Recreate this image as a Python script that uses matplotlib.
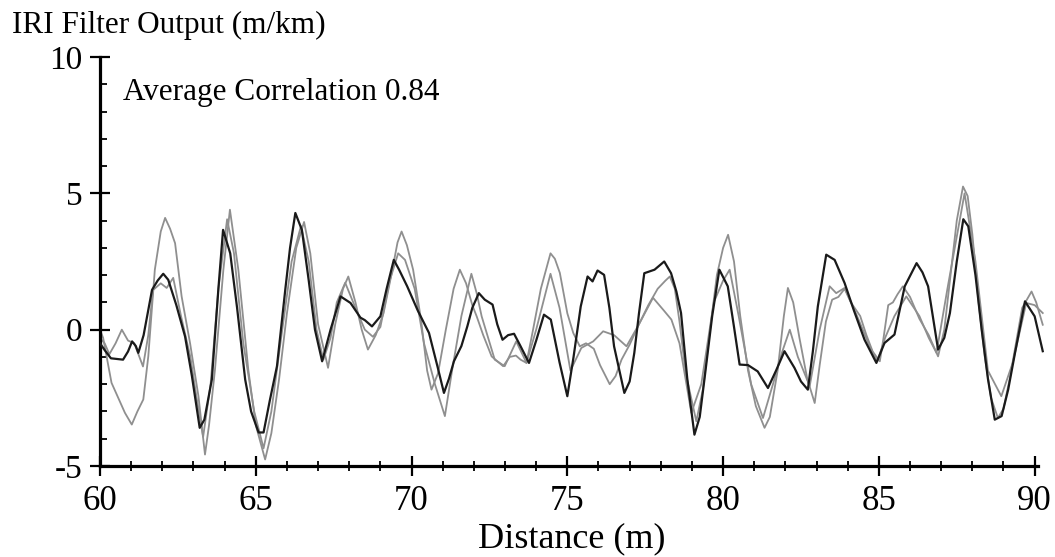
import numpy as np
import matplotlib
matplotlib.use("Agg")
import matplotlib.pyplot as plt
from matplotlib.ticker import FixedLocator, MultipleLocator

# --------------------------
# Data (distance in m, IRI filter output in m/km)
# --------------------------
dist_a = [60.0, 60.15, 60.35, 60.74, 60.9, 61.03, 61.15, 61.23, 61.4, 61.67, 61.85, 62.03, 62.19, 62.45,
          62.73, 62.95, 63.2, 63.35, 63.59, 63.8, 63.95, 64.18, 64.4, 64.66, 64.85, 65.09, 65.25, 65.45,
          65.68, 65.95, 66.1, 66.27, 66.48, 66.7, 66.9, 67.13, 67.4, 67.72, 68.04, 68.36, 68.5, 68.73,
          69.0, 69.2, 69.43, 69.6, 69.86, 70.2, 70.56, 70.83, 71.04, 71.2, 71.36, 71.6, 71.79, 71.95,
          72.16, 72.35, 72.6, 72.75, 72.92, 73.1, 73.29, 73.5, 73.77, 74.0, 74.25, 74.47, 74.75, 75.0,
          75.2, 75.43, 75.65, 75.81, 75.97, 76.18, 76.35, 76.5, 76.83, 77.0, 77.15, 77.3, 77.47, 77.8,
          78.11, 78.33, 78.5, 78.65, 78.85, 79.08, 79.25, 79.4, 79.65, 79.88, 80.15, 80.35, 80.53, 80.8,
          81.11, 81.44, 81.7, 81.97, 82.29, 82.5, 82.72, 82.88, 83.04, 83.31, 83.58, 83.9, 84.2, 84.54,
          84.92, 85.18, 85.5, 85.83, 86.21, 86.4, 86.58, 86.9, 87.1, 87.28, 87.5, 87.71, 87.87, 88.1,
          88.3, 88.5, 88.72, 88.94, 89.15, 89.37, 89.69, 90.0, 90.26]
iri_a = [-0.5, -0.75, -1.05, -1.1, -0.8, -0.43, -0.6, -0.85, -0.2, 1.46, 1.8, 2.05, 1.83, 0.9,
         -0.25, -1.7, -3.6, -3.3, -1.83, 1.5, 3.66, 2.8, 0.8, -1.83, -3.0, -3.77, -3.77, -2.6,
         -1.34, 1.5, 3.0, 4.28, 3.66, 1.8, 0.0, -1.16, 0.0, 1.22, 0.98, 0.44, 0.35, 0.12,
         0.49, 1.5, 2.56, 2.2, 1.59, 0.7, -0.12, -1.34, -2.32, -1.8, -1.16, -0.6, 0.12, 0.8,
         1.34, 1.1, 0.92, 0.2, -0.37, -0.2, -0.15, -0.61, -1.22, -0.4, 0.55, 0.37, -1.2, -2.44,
         -1.0, 0.85, 1.95, 1.77, 2.17, 2.01, 0.8, -0.61, -2.32, -1.9, -0.85, 0.6, 2.07, 2.2,
         2.5, 2.07, 1.4, 0.61, -1.8, -3.85, -3.2, -1.83, 0.5, 2.2, 1.59, 0.1, -1.28, -1.3,
         -1.53, -2.14, -1.5, -0.79, -1.4, -1.9, -2.2, -0.8, 0.85, 2.75, 2.56, 1.71, 0.7, -0.37,
         -1.22, -0.49, -0.18, 1.59, 2.44, 2.1, 1.59, -0.73, -0.3, 0.61, 2.5, 4.05, 3.79, 2.0,
         0.0, -1.8, -3.3, -3.17, -2.2, -0.85, 1.04, 0.49, -0.79]

dist_b = [60.0, 60.1, 60.37, 60.8, 61.02, 61.2, 61.39, 61.55, 61.76, 61.95, 62.09, 62.25, 62.41, 62.62,
          62.89, 63.16, 63.37, 63.5, 63.69, 63.96, 64.17, 64.44, 64.76, 65.0, 65.3, 65.5, 65.75, 66.0,
          66.3, 66.55, 66.75, 67.0, 67.32, 67.55, 67.8, 67.97, 68.2, 68.4, 68.6, 68.85, 69.1, 69.35,
          69.55, 69.68, 69.85, 70.05, 70.3, 70.5, 70.64, 70.85, 71.1, 71.35, 71.55, 71.75, 71.95, 72.09,
          72.3, 72.57, 72.94, 73.15, 73.35, 73.5, 73.69, 73.9, 74.15, 74.46, 74.6, 74.76, 75.0, 75.19,
          75.4, 75.6, 75.85, 76.05, 76.36, 76.55, 76.74, 77.0, 77.3, 77.6, 77.9, 78.15, 78.29, 78.45,
          78.6, 78.8, 79.14, 79.35, 79.55, 79.8, 80.0, 80.16, 80.35, 80.55, 80.8, 81.05, 81.33, 81.5,
          81.75, 81.95, 82.08, 82.25, 82.45, 82.7, 82.94, 83.1, 83.3, 83.5, 83.7, 83.9, 84.1, 84.4,
          84.6, 84.8, 85.03, 85.15, 85.3, 85.45, 85.6, 85.77, 86.0, 86.3, 86.6, 86.9, 87.1, 87.3,
          87.5, 87.7, 87.85, 88.0, 88.2, 88.4, 88.6, 88.82, 89.0, 89.2, 89.4, 89.6, 89.9, 90.05, 90.26]
iri_b = [0.0, -0.3, -1.95, -3.05, -3.48, -3.0, -2.56, -0.98, 2.2, 3.6, 4.1, 3.7, 3.17, 1.22,
         -0.49, -2.44, -4.58, -3.5, -1.47, 2.2, 4.4, 2.2, -1.47, -3.5, -4.76, -3.8, -1.8, 0.6,
         3.0, 3.95, 2.8, 0.2, -1.4, 0.2, 1.5, 1.95, 1.0, 0.0, -0.73, -0.2, 0.6, 2.0,
         3.2, 3.6, 3.1, 2.2, 0.4, -1.5, -2.2, -1.6, 0.0, 1.5, 2.2, 1.7, 0.9, 0.49,
         -0.2, -0.98, -1.34, -1.0, -0.95, -1.1, -1.22, 0.0, 1.5, 2.8, 2.6, 2.08, 0.6, -0.12,
         -0.61, -0.5, -0.7, -1.3, -2.0, -1.7, -1.1, -0.55, 0.2, 0.9, 1.5, 1.8, 1.95, 1.5,
         0.3, -1.6, -3.36, -2.2, -0.3, 2.0, 3.0, 3.48, 2.5, 0.5, -1.5, -2.8, -3.6, -3.2,
         -1.5, 0.5, 1.53, 1.0, -0.3, -1.8, -2.69, -1.3, 0.3, 1.1, 1.2, 1.5, 1.0, 0.5,
         -0.2, -0.8, -1.16, -0.3, 0.9, 1.0, 1.3, 1.59, 1.2, 0.4, -0.2, -0.98, 0.0, 2.0,
         4.0, 5.25, 4.9, 3.5, 1.0, -1.0, -2.5, -3.24, -2.9, -1.8, -0.5, 0.8, 1.4, 1.0, 0.18]

dist_c = [60.0, 60.15, 60.3, 60.5, 60.7, 60.9, 61.1, 61.38, 61.55, 61.7, 61.95, 62.14, 62.35, 62.6,
          62.9, 63.1, 63.31, 63.55, 63.8, 64.08, 64.3, 64.6, 64.95, 65.25, 65.5, 65.85, 66.15, 66.45,
          66.7, 66.95, 67.17, 67.4, 67.6, 67.87, 68.2, 68.5, 68.76, 69.0, 69.3, 69.57, 69.79, 70.1,
          70.4, 70.75, 71.07, 71.3, 71.6, 71.92, 72.09, 72.25, 72.67, 72.99, 73.36, 73.69, 74.0, 74.46,
          74.75, 75.1, 75.45, 75.83, 76.15, 76.5, 76.9, 77.3, 77.75, 78.1, 78.34, 78.6, 78.98, 79.3,
          79.7, 80.0, 80.21, 80.5, 80.9, 81.28, 81.6, 81.9, 82.14, 82.4, 82.78, 83.1, 83.42, 83.63,
          83.9, 84.3, 84.7, 84.95, 85.2, 85.5, 85.88, 86.3, 86.6, 86.85, 87.2, 87.75, 88.1, 88.5,
          88.93, 89.3, 89.73, 90.0, 90.26]
iri_c = [-0.3, -0.5, -0.9, -0.5, 0.0, -0.4, -0.5, -1.35, -0.2, 1.45, 1.7, 1.53, 1.9, 0.5,
         -1.0, -2.5, -3.93, -2.0, 1.5, 4.05, 2.8, -0.5, -3.0, -4.35, -3.0, 0.0, 2.5, 3.8,
         2.5, 0.0, -1.1, -0.3, 1.0, 1.72, 0.8, 0.0, -0.26, 0.1, 1.8, 2.8, 2.56, 1.5,
         -0.5, -2.0, -3.17, -1.5, 0.5, 2.05, 1.34, 0.49, -1.1, -1.34, -0.43, -1.22, 0.0, 2.05,
         0.8, -1.5, -0.67, -0.43, -0.06, -0.2, -0.61, 0.2, 1.17, 0.7, 0.37, -0.5, -3.05, -2.0,
         1.0, 1.8, 2.2, 0.5, -2.0, -3.24, -2.0, -0.8, 0.0, -1.0, -2.07, 0.0, 1.59, 1.34,
         1.53, 0.5, -0.6, -1.16, -0.3, 0.5, 1.22, 0.5, -0.3, -0.85, 1.5, 5.0, 2.5, -1.5,
         -2.44, -1.2, 0.98, 0.9, 0.61]

y_major = [-5, 0, 5, 10]
x_major = [60, 65, 70, 75, 80, 85, 90]

# --------------------------
# Style
# --------------------------
plt.rcParams['font.family'] = ['Liberation Serif', 'DejaVu Serif']
plt.rcParams['axes.unicode_minus'] = False

fig = plt.figure(figsize=(10.55, 5.57), dpi=100)
ax = fig.add_axes([100 / 1055, 91 / 557, 944 / 1055, 409 / 557])

ax.plot(dist_b, iri_b, color='#8f8f8f', lw=1.3, zorder=2)
ax.plot(dist_c, iri_c, color='#8f8f8f', lw=1.3, zorder=2)
ax.plot(dist_a, iri_a, color='#1a1a1a', lw=1.6, zorder=3)

ax.set_xlim(60, 90.3)
ax.set_ylim(-5, 10)

for side in ['top', 'right']:
    ax.spines[side].set_visible(False)
for side in ['left', 'bottom']:
    ax.spines[side].set_linewidth(2.3)
ax.spines['bottom'].set_bounds(60, 90.1)

ax.xaxis.set_major_locator(FixedLocator(x_major))
ax.xaxis.set_minor_locator(MultipleLocator(1))
ax.yaxis.set_major_locator(FixedLocator(y_major))
ax.yaxis.set_minor_locator(MultipleLocator(1))

ax.tick_params(axis='both', which='major', direction='inout', length=15, width=1.6)
ax.tick_params(axis='x', which='minor', direction='inout', length=7, width=1.3)
ax.tick_params(axis='y', which='minor', direction='in', length=5, width=1.3)
ax.tick_params(axis='y', which='major', labelsize=24, pad=5)
ax.tick_params(axis='x', which='major', labelsize=25, pad=6)

ax.set_xlabel("Distance (m)", fontsize=26, labelpad=3)

fig.text(12 / 1055, 1 - 33 / 557, "IRI Filter Output (m/km)", fontsize=22.5,
         ha='left', va='baseline')
ax.text(123 / 1055, 1 - 100 / 557, "Average Correlation 0.84", fontsize=22.5,
        ha='left', va='baseline', transform=fig.transFigure)

fig.savefig('out.png', dpi=100)
